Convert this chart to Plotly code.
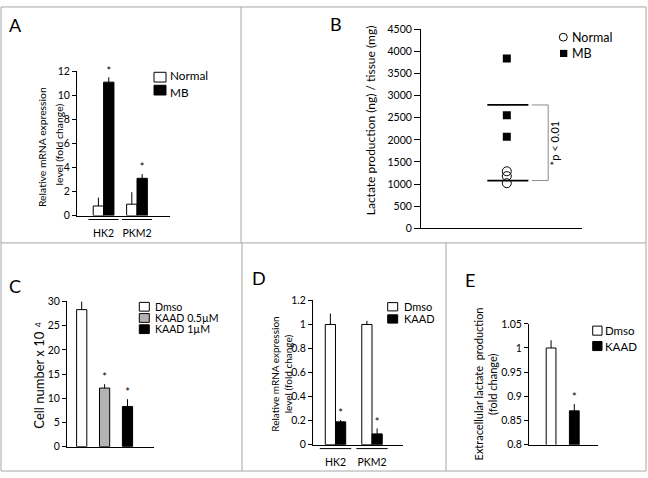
import plotly.graph_objects as go

W, H = 648, 478
FONT = "Lato"
GRID = "#a6a6a6"

# ---------------- data ----------------
# Panel A
a_genes = ["HK2", "PKM2"]
a_normal = [0.8, 0.95]
a_normal_err = [0.7, 1.0]
a_mb = [11.1, 3.1]
a_mb_err = [0.4, 0.35]
a_yticks = [0, 2, 4, 6, 8, 10, 12]
a_series = ["Normal", "MB"]

# Panel B
b_normal = [1290, 1180, 1020]
b_mb = [3840, 2560, 2070]
b_normal_mean = 1080
b_mb_mean = 2790
b_yticks = [0, 500, 1000, 1500, 2000, 2500, 3000, 3500, 4000, 4500]
b_series = ["Normal", "MB"]
b_pvalue = "*p < 0.01"

# Panel C
c_groups = ["Dmso", "KAAD 0.5µM", "KAAD 1µM"]
c_values = [28.3, 12.1, 8.3]
c_err = [1.7, 0.8, 1.5]
c_sig = [False, True, True]
c_yticks = [0, 5, 10, 15, 20, 25, 30]

# Panel D
d_genes = ["HK2", "PKM2"]
d_dmso = [1.0, 1.0]
d_dmso_err = [0.09, 0.03]
d_kaad = [0.19, 0.09]
d_kaad_err = [0.015, 0.045]
d_yticks = [0, 0.2, 0.4, 0.6, 0.8, 1, 1.2]
d_series = ["Dmso", "KAAD"]

# Panel E
e_groups = ["Dmso", "KAAD"]
e_values = [1.0, 0.87]
e_err = [0.016, 0.014]
e_sig = [False, True]
e_yticks = [0.8, 0.85, 0.9, 0.95, 1, 1.05]


def px(x):
    return x / W


def py(y):
    return 1 - y / H


fig = go.Figure()
shapes = []
annotations = []

BAR_LINE = dict(color="black", width=1)
ERR = dict(type="data", symmetric=False, width=0, thickness=1, color="black")


def star_trace(xs, ys, xa, ya):
    return go.Scatter(x=xs, y=ys, mode="text", text=["*"] * len(xs),
                      textposition="top center",
                      textfont=dict(size=11, color="black", family=FONT),
                      xaxis=xa, yaxis=ya, showlegend=False, hoverinfo="skip",
                      cliponaxis=False)


# ---------------- Panel A ----------------
bw_a = 0.31
idx_a = list(range(len(a_genes)))
fig.add_trace(go.Bar(x=[i - bw_a / 2 for i in idx_a], y=a_normal, width=bw_a,
                     name=a_series[0], marker=dict(color="white", line=BAR_LINE),
                     error_y=dict(ERR, array=a_normal_err, arrayminus=[0] * 2),
                     xaxis="x", yaxis="y", showlegend=False))
fig.add_trace(go.Bar(x=[i + bw_a / 2 for i in idx_a], y=a_mb, width=bw_a,
                     name=a_series[1], marker=dict(color="black", line=BAR_LINE),
                     error_y=dict(ERR, array=a_mb_err, arrayminus=[0] * 2),
                     xaxis="x", yaxis="y", showlegend=False))
fig.add_trace(star_trace([i + bw_a / 2 for i in idx_a],
                         [v + e for v, e in zip(a_mb, a_mb_err)], "x", "y"))
for i in idx_a:
    shapes.append(dict(type="line", xref="x", yref="paper", x0=i - 0.45, x1=i + 0.45,
                       y0=py(219), y1=py(219), line=dict(color="black", width=1)))

# ---------------- Panel B ----------------
b_pos = 0.533
fig.add_trace(go.Scatter(x=[b_pos] * len(b_normal), y=b_normal, mode="markers",
                         name=b_series[0],
                         marker=dict(symbol="circle-open", size=9, color="black",
                                     line=dict(width=1)),
                         xaxis="x2", yaxis="y2", showlegend=False))
fig.add_trace(go.Scatter(x=[b_pos] * len(b_mb), y=b_mb, mode="markers",
                         name=b_series[1],
                         marker=dict(symbol="square", size=8, color="black"),
                         xaxis="x2", yaxis="y2", showlegend=False))
for m in (b_mb_mean, b_normal_mean):
    fig.add_trace(go.Scatter(x=[0.412, 0.667], y=[m, m], mode="lines",
                             line=dict(color="black", width=1.8),
                             xaxis="x2", yaxis="y2", showlegend=False, hoverinfo="skip"))
fig.add_trace(go.Scatter(x=[0.688, 0.79, 0.79, 0.688],
                         y=[b_mb_mean, b_mb_mean, b_normal_mean, b_normal_mean],
                         mode="lines", line=dict(color="#8c8c8c", width=1),
                         xaxis="x2", yaxis="y2", showlegend=False, hoverinfo="skip"))
annotations.append(dict(x=0.83, y=(b_mb_mean + b_normal_mean) / 2, xref="x2", yref="y2",
                        text=b_pvalue, textangle=-90, showarrow=False,
                        font=dict(size=11, family=FONT, color="black")))

# ---------------- Panel C ----------------
bw_c = 0.445
idx_c = list(range(len(c_groups)))
c_colors = ["white", "#b3b3b3", "black"]
for i, (g, v, e, col) in enumerate(zip(c_groups, c_values, c_err, c_colors)):
    fig.add_trace(go.Bar(x=[i], y=[v], width=bw_c, name=g,
                         marker=dict(color=col, line=BAR_LINE),
                         error_y=dict(ERR, array=[e], arrayminus=[0]),
                         xaxis="x3", yaxis="y3", showlegend=False))
fig.add_trace(star_trace([i for i in idx_c if c_sig[i]],
                         [c_values[i] + c_err[i] for i in idx_c if c_sig[i]], "x3", "y3"))

# ---------------- Panel D ----------------
bw_d = 0.28
idx_d = list(range(len(d_genes)))
fig.add_trace(go.Bar(x=[i - bw_d / 2 for i in idx_d], y=d_dmso, width=bw_d,
                     name=d_series[0], marker=dict(color="white", line=BAR_LINE),
                     error_y=dict(ERR, array=d_dmso_err, arrayminus=[0] * 2),
                     xaxis="x4", yaxis="y4", showlegend=False))
fig.add_trace(go.Bar(x=[i + bw_d / 2 for i in idx_d], y=d_kaad, width=bw_d,
                     name=d_series[1], marker=dict(color="black", line=BAR_LINE),
                     error_y=dict(ERR, array=d_kaad_err, arrayminus=[0] * 2),
                     xaxis="x4", yaxis="y4", showlegend=False))
fig.add_trace(star_trace([i + bw_d / 2 for i in idx_d],
                         [v + e for v, e in zip(d_kaad, d_kaad_err)], "x4", "y4"))
for i in idx_d:
    shapes.append(dict(type="line", xref="x4", yref="paper", x0=i - 0.43, x1=i + 0.43,
                       y0=py(454), y1=py(454), line=dict(color="black", width=1)))

# ---------------- Panel E ----------------
bw_e = 0.42
idx_e = list(range(len(e_groups)))
e_colors = ["white", "black"]
for i, (g, v, e, col) in enumerate(zip(e_groups, e_values, e_err, e_colors)):
    fig.add_trace(go.Bar(x=[i], y=[v], width=bw_e, name=g,
                         marker=dict(color=col, line=BAR_LINE),
                         error_y=dict(ERR, array=[e], arrayminus=[0]),
                         xaxis="x5", yaxis="y5", showlegend=False))
fig.add_trace(star_trace([i for i in idx_e if e_sig[i]],
                         [e_values[i] + e_err[i] for i in idx_e if e_sig[i]], "x5", "y5"))

# ---------------- axes ----------------
TICKF = dict(size=10.5, family=FONT, color="black")


def xax(dom, rng, anchor, tickvals=None, ticktext=None, standoff=8):
    d = dict(domain=[px(dom[0]), px(dom[1])], range=rng, anchor=anchor,
             showline=True, linecolor="black", linewidth=1, ticks="",
             showgrid=False, zeroline=False, fixedrange=True, tickfont=TICKF)
    if tickvals is None:
        d["showticklabels"] = False
    else:
        d.update(tickmode="array", tickvals=tickvals, ticktext=ticktext,
                 ticklabelstandoff=standoff)
    return d


def yax(dom, rng, anchor, tickvals, ticklen=4):
    return dict(domain=[py(dom[1]), py(dom[0])], range=rng, anchor=anchor,
                showline=True, linecolor="black", linewidth=1, ticks="outside",
                ticklen=ticklen, tickwidth=1, tickcolor="black",
                tickmode="array", tickvals=tickvals,
                ticktext=[("%g" % t) for t in tickvals],
                showgrid=False, zeroline=False, fixedrange=True, tickfont=TICKF)


fig.update_layout(
    xaxis=xax((77, 170), [-0.796, 1.988], "y", idx_a, a_genes),
    yaxis=yax((67, 215), [0, 12], "x", a_yticks),
    xaxis2=xax((421, 582), [0, 1], "y2"),
    yaxis2=yax((24, 228), [0, 4500], "x2", b_yticks, ticklen=6),
    xaxis3=xax((67, 154), [-0.642, 3.157], "y3"),
    yaxis3=yax((303, 452), [0, 30], "x3", c_yticks),
    xaxis4=xax((313, 403), [-0.616, 1.849], "y4", idx_d, d_genes),
    yaxis4=yax((302, 450), [0, 1.2], "x4", d_yticks),
    xaxis5=xax((529, 598), [-0.95, 2.02], "y5"),
    yaxis5=yax((326, 450), [0.8, 1.05], "x5", e_yticks),
)


# ---------------- axis titles ----------------
def vtext(x, y, text, size, angle=-90):
    annotations.append(dict(x=px(x), y=py(y), xref="paper", yref="paper", text=text,
                            textangle=angle, showarrow=False, borderpad=0,
                            xanchor="center", yanchor="middle",
                            font=dict(size=size, family=FONT, color="black")))


vtext(42.7, 145, "Relative mRNA expression", 10.4)
vtext(59, 142, "level (fold change)", 10.4)
vtext(370.7, 117.5, "Lactate production (ng) / tissue (mg)", 12)
vtext(39.3, 384, "Cell number x 10", 13)
vtext(37.3, 327, "4", 8)
vtext(280.7, 377.5, "Relative mRNA expression<br>level (fold change)", 10)
vtext(478.7, 387.5, "Extracellular lactate  production", 11)
vtext(492.7, 388, "(fold change)", 11)

# ---------------- panel letters ----------------
for lab, x, y in [("A", 15.3, 19.7), ("B", 335.7, 18.7), ("C", 15, 287.5),
                  ("D", 259, 279), ("E", 469.5, 281)]:
    annotations.append(dict(x=px(x), y=py(y), xref="paper", yref="paper", text=lab,
                            showarrow=False, xanchor="center", yanchor="middle",
                            font=dict(size=18, family=FONT, color="black")))


# ---------------- legends (boxes + labels) ----------------
def legend_box(x0, x1, yc, h, fill, label, tx, size, ty=None, yanchor="middle"):
    shapes.append(dict(type="rect", xref="paper", yref="paper",
                       x0=px(x0), x1=px(x1), y0=py(yc + h / 2), y1=py(yc - h / 2),
                       fillcolor=fill, line=dict(color="black", width=1)))
    annotations.append(dict(x=px(tx), y=py(yc if ty is None else ty),
                            xref="paper", yref="paper", text=label,
                            showarrow=False, xanchor="left", yanchor=yanchor,
                            borderpad=0,
                            font=dict(size=size, family=FONT, color="black")))


legend_box(154, 166, 73, 10, "white", a_series[0], 169, 11.8, ty=79.7, yanchor="bottom")
legend_box(154, 166, 86.3, 10, "black", a_series[1], 169, 11.8, ty=79.7, yanchor="top")

# B legend markers
shapes.append(dict(type="circle", xref="paper", yref="paper",
                   x0=px(559.3), x1=px(567.3), y0=py(36), y1=py(28),
                   line=dict(color="black", width=1), fillcolor="white"))
annotations.append(dict(x=px(570.5), y=py(32), xref="paper", yref="paper",
                        text=b_series[0], showarrow=False, xanchor="left", borderpad=0,
                        yanchor="middle", font=dict(size=12.5, family=FONT, color="black")))
shapes.append(dict(type="rect", xref="paper", yref="paper",
                   x0=px(560), x1=px(567.3), y0=py(52.3), y1=py(45),
                   line=dict(color="black", width=0), fillcolor="black"))
annotations.append(dict(x=px(570.5), y=py(48.7), xref="paper", yref="paper",
                        text=b_series[1], showarrow=False, xanchor="left", borderpad=0,
                        yanchor="middle", font=dict(size=12.5, family=FONT, color="black")))

for g, col, yc in zip(c_groups, c_colors, [308.5, 320, 331.5]):
    legend_box(139.3, 149.3, yc, 9, col, g, 153.5, 10.6)
for g, col, yc in zip(d_series, ["white", "black"], [308.5, 321]):
    legend_box(387.7, 397.7, yc, 8.5, col, g, 402.5, 11)
for g, col, yc in zip(e_groups, e_colors, [333, 348.8]):
    legend_box(592.7, 602, yc, 9.3, col, g, 603.5, 11.5)


# ---------------- panel frames ----------------
def gline(x0, y0, x1, y1):
    shapes.append(dict(type="line", xref="paper", yref="paper",
                       x0=px(x0), y0=py(y0), x1=px(x1), y1=py(y1),
                       line=dict(color=GRID, width=1)))


gline(1, 1, 646, 1)
gline(1, 477, 646, 477)
gline(1, 1, 1, 477)
gline(646, 1, 646, 477)
gline(241, 1, 241, 243)
gline(1, 243, 646, 243)
gline(242, 243, 242, 477)
gline(446, 243, 446, 477)

fig.update_layout(
    width=W, height=H, margin=dict(l=0, r=0, t=0, b=0),
    paper_bgcolor="white", plot_bgcolor="rgba(0,0,0,0)",
    font=dict(family=FONT, color="black"),
    showlegend=False, barmode="overlay",
    shapes=shapes, annotations=annotations,
)

fig.write_html("out.html",
               config={"displayModeBar": False},
               post_script="document.body.style.margin='0';"
                           "document.body.style.overflow='hidden';")
